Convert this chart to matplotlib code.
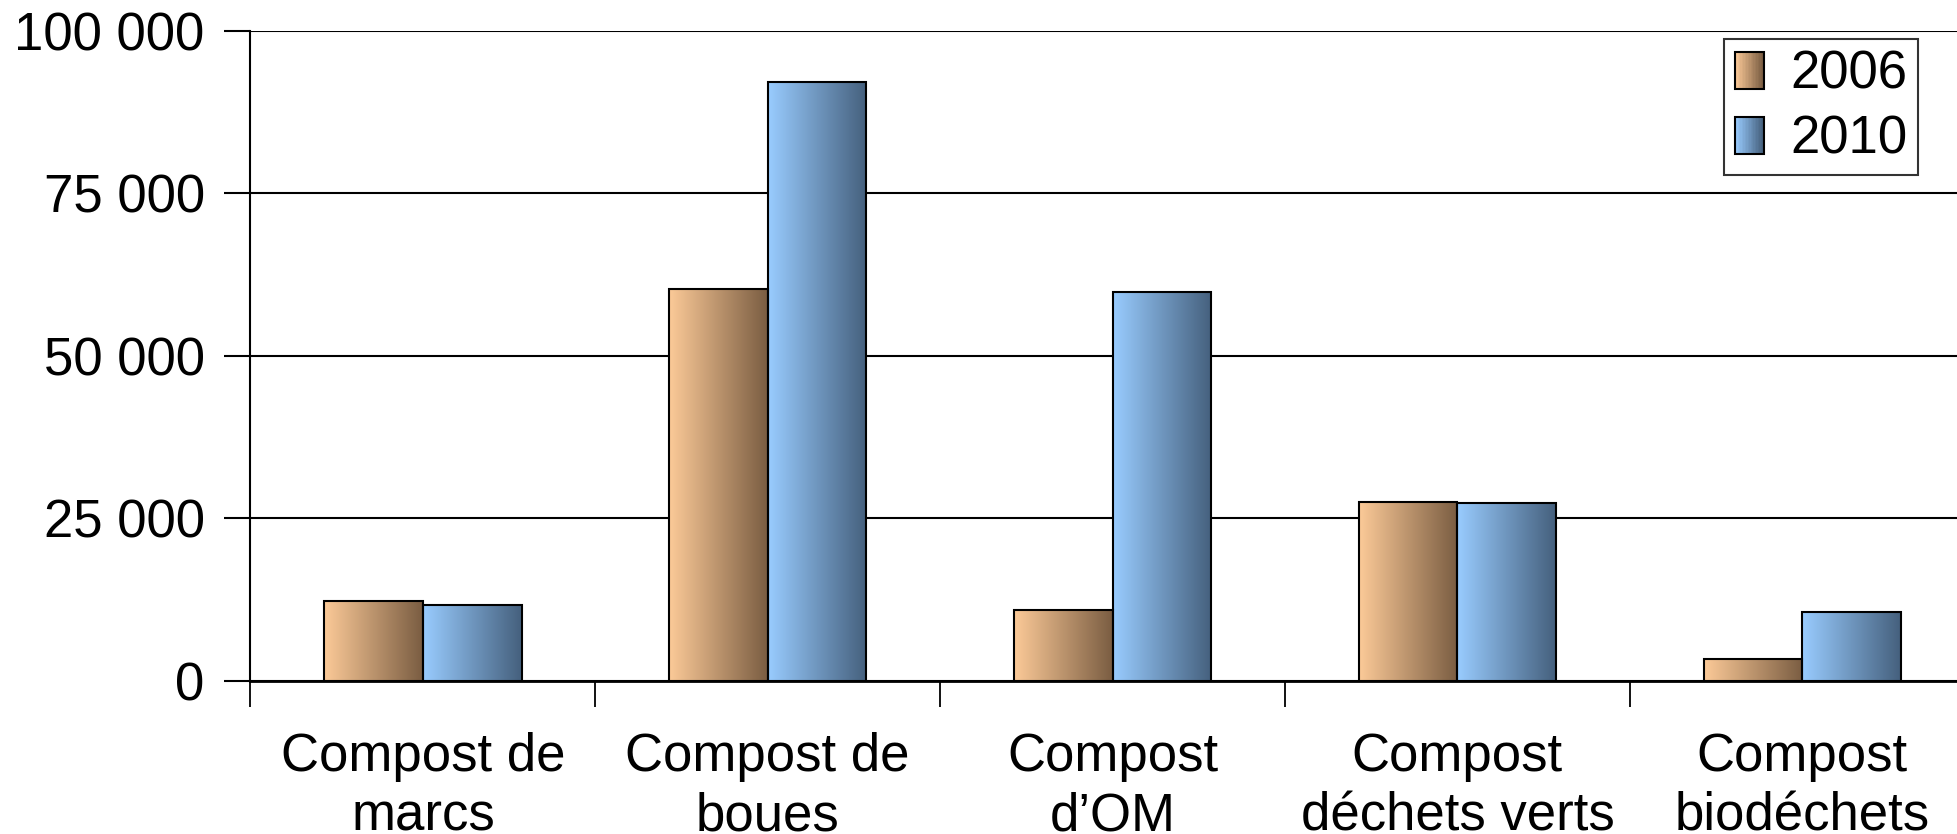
import numpy as np
import matplotlib
matplotlib.use("Agg")
from matplotlib import pyplot as plt
from matplotlib.patches import Rectangle
from matplotlib.legend_handler import HandlerBase
from matplotlib.colors import LinearSegmentedColormap
from matplotlib.ticker import FuncFormatter, FixedLocator

categories = ["Compost de\nmarcs", "Compost de\nboues", "Compost\nd\u2019OM",
              "Compost\ndéchets verts", "Compost\nbiodéchets"]
years = ["2006", "2010"]
values_2006 = [12300, 60200, 10800, 27500, 3300]
values_2010 = [11700, 92100, 59800, 27300, 10600]
yticks = [0, 25000, 50000, 75000, 100000]

# gradient ends (light left -> dark right)
grad_2006 = ["#FCCA98", "#7A5D42"]
grad_2010 = ["#99CCFF", "#45607D"]

plt.rcParams['font.family'] = ['Liberation Sans', 'DejaVu Sans']
fs = 38

fig = plt.figure(figsize=(19.57, 8.34), dpi=100)
ax = fig.add_axes([0.128, 0.184, 0.881, 0.779])

x = np.arange(len(categories))
w = 0.286
grad = np.linspace(0, 1, 256).reshape(1, -1)

def gradient_bars(xpos, vals, cols, label):
    cmap = LinearSegmentedColormap.from_list(label, cols)
    bars = ax.bar(xpos, vals, w, facecolor="none", edgecolor="black",
                  linewidth=1.5, zorder=4, label=label)
    for b in bars:
        x0, y0 = b.get_x(), b.get_y()
        ax.imshow(grad, cmap=cmap, extent=[x0, x0 + b.get_width(), y0, y0 + b.get_height()],
                  aspect="auto", zorder=3, interpolation="bilinear")
    return bars

b1 = gradient_bars(x - w / 2, values_2006, grad_2006, years[0])
b2 = gradient_bars(x + w / 2, values_2010, grad_2010, years[1])

ax.set_xlim(-0.5, len(categories) - 0.5)
ax.set_ylim(0, 100000)
ax.set_yticks(yticks)
ax.yaxis.set_major_formatter(FuncFormatter(lambda v, p: f"{int(v):,}".replace(",", " ")))
ax.yaxis.grid(True, color="black", linewidth=1.5, zorder=0)
ax.set_axisbelow(True)

ax.set_xticks(x)
ax.set_xticklabels(categories, fontsize=fs, linespacing=1.24)
ax.xaxis.set_minor_locator(FixedLocator(np.arange(-0.5, len(categories) - 0.5, 1)))
ax.tick_params(axis="x", which="major", length=0, pad=37)
ax.tick_params(axis="x", which="minor", length=19, width=1.3, direction="out")
ax.tick_params(axis="y", length=19, width=1.5, direction="out", labelsize=fs, pad=14)

for s in ["top", "right"]:
    ax.spines[s].set_visible(False)
ax.spines["left"].set_linewidth(1.5)
ax.spines["bottom"].set_linewidth(2)


class GradientHandler(HandlerBase):
    def __init__(self, cols):
        super().__init__()
        self.cmap = LinearSegmentedColormap.from_list("h", cols)

    def create_artists(self, legend, orig_handle, xdescent, ydescent, width, height, fontsize, trans):
        arts = []
        n = 20
        sw = width
        for i in range(n):
            r = Rectangle((-xdescent + sw * i / n, -ydescent), sw / n + 0.3, height,
                          facecolor=self.cmap(i / (n - 1)), edgecolor="none", transform=trans)
            arts.append(r)
        arts.append(Rectangle((-xdescent, -ydescent), sw, height, facecolor="none",
                              edgecolor="black", linewidth=1.5, transform=trans))
        return arts


leg = ax.legend([b1, b2], years, loc="upper right", bbox_to_anchor=(0.967, 0.987),
                fontsize=fs, frameon=True, fancybox=False, edgecolor="black",
                handlelength=0.55, handleheight=0.7, handletextpad=0.5,
                borderpad=0.2, labelspacing=0.28, borderaxespad=0,
                handler_map={b1: GradientHandler(grad_2006), b2: GradientHandler(grad_2010)})
leg.get_frame().set_linewidth(1.5)
leg.set_zorder(10)

fig.savefig("out.png", dpi=100)
